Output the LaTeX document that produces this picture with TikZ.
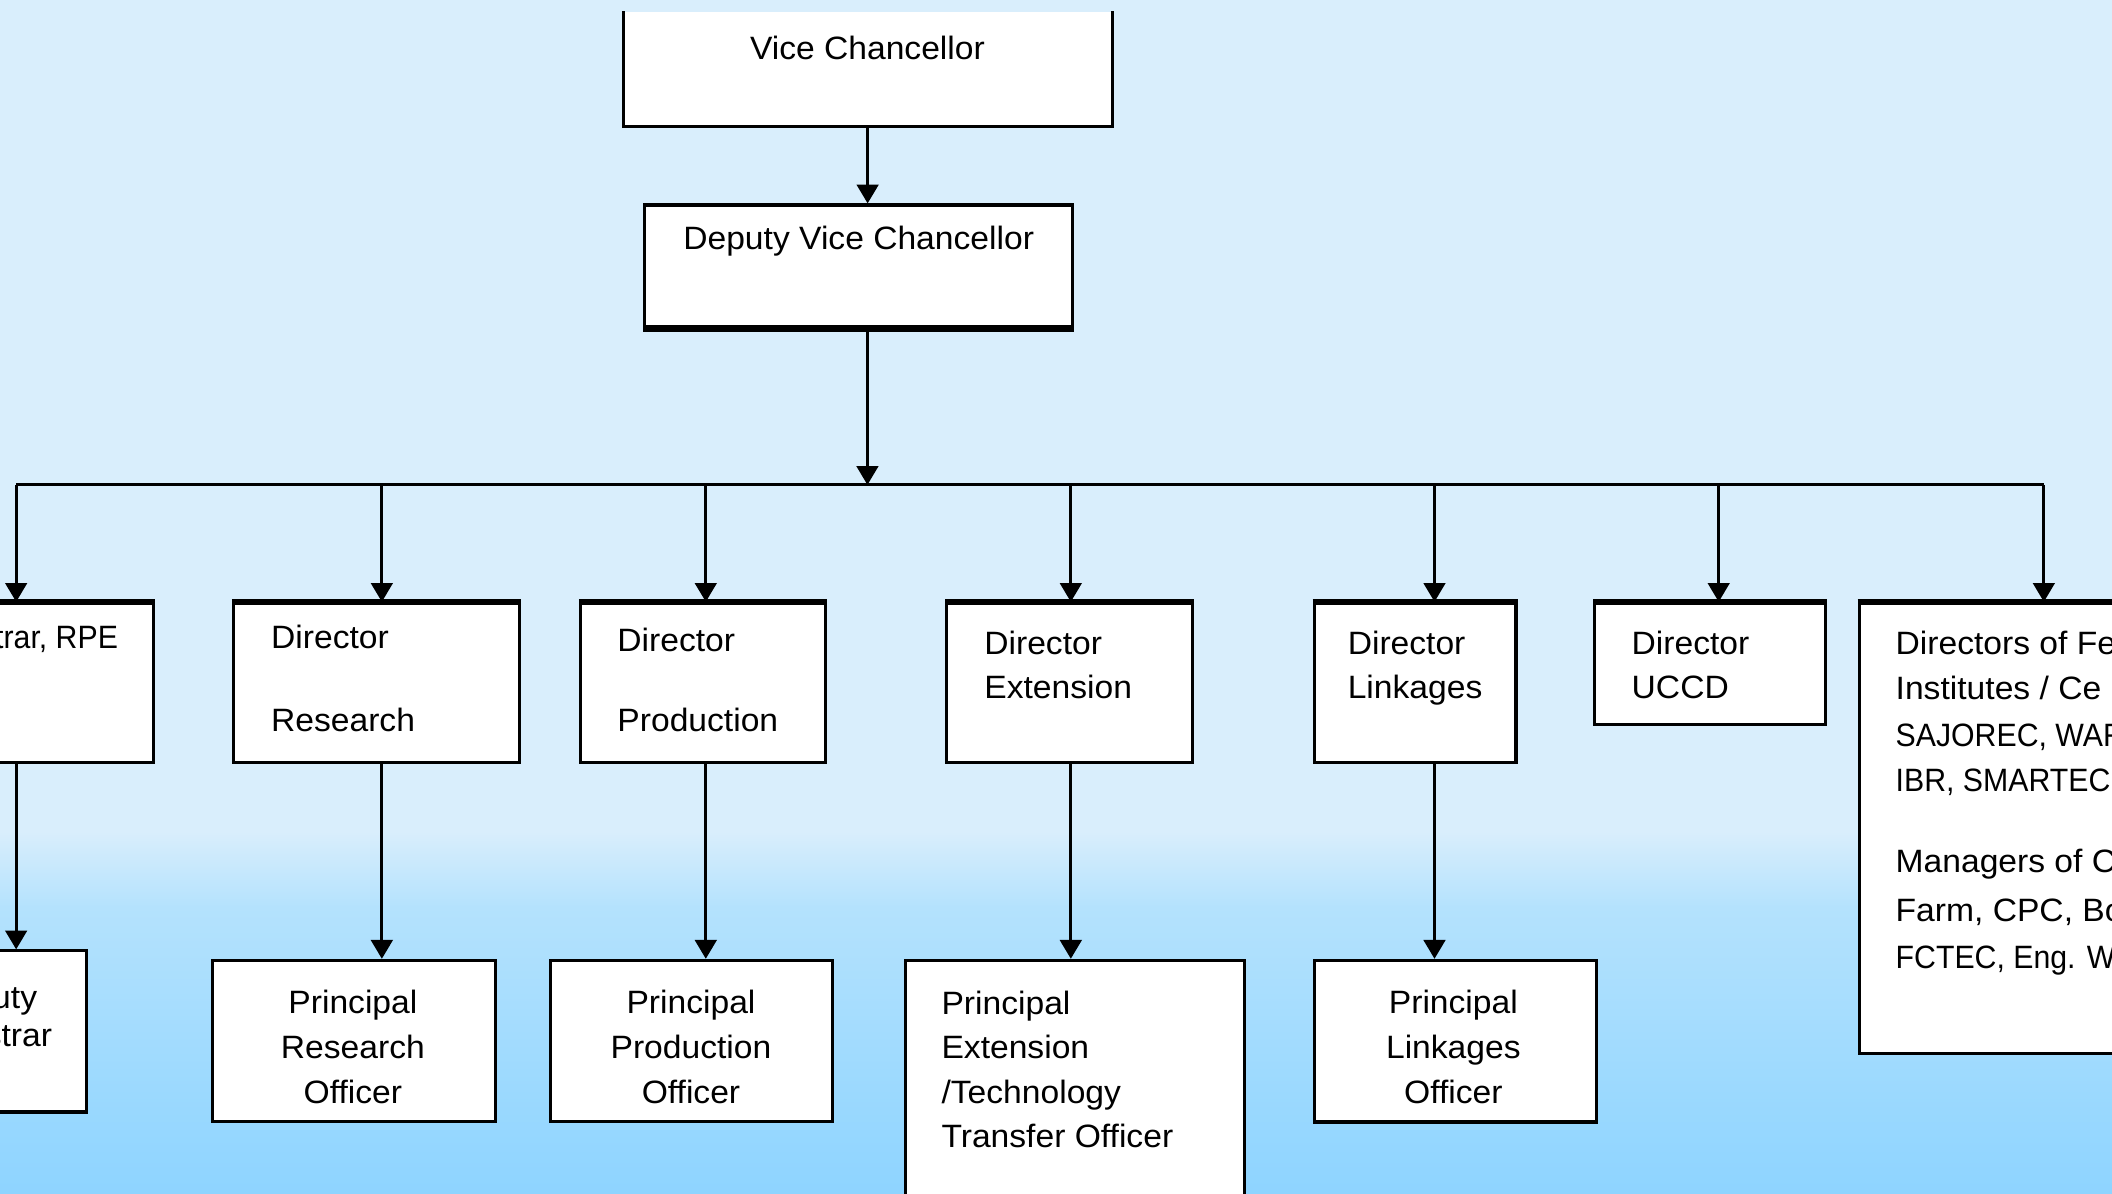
\documentclass[tikz,border=0pt]{standalone}
\usepackage{fontspec}
\setmainfont{Liberation Sans}
\newfontfamily\boxfont[FakeStretch=1.04]{Liberation Sans}
\usetikzlibrary{arrows.meta,fit}
\definecolor{bgtop}{RGB}{217,238,252}
\definecolor{bgmid}{RGB}{180,226,253}
\definecolor{bgbot}{RGB}{142,212,255}
% capitals-heavy lines are set a little narrower
\newcommand{\narrowcaps}[1]{\scalebox{0.9}[1]{#1}}

\begin{document}
\begin{tikzpicture}[x=0.5pt,y=-0.5pt,
  box/.style={draw=black, fill=white, line width=1.15pt, inner sep=0pt},
  txt/.style={font=\boxfont\fontsize{12}{14}\selectfont, inner sep=0pt, text=black},
  arr/.style={line width=1.15pt, -{Triangle[width=8pt,length=7pt]}},
  topline/.style={line width=2pt},
  btmline/.style={line width=2.7pt}]
\path[use as bounding box] (0,0) rectangle (1568,886);
\clip (0,0) rectangle (1568,886);

% background: pale sky blue fading to a deeper blue near the bottom
\fill[bgtop] (0,0) rectangle (1568,618);
\shade[top color=bgtop, bottom color=bgmid] (0,617) rectangle (1568,674);
\shade[top color=bgmid, bottom color=bgbot] (0,673) rectangle (1568,886);

% ---------- top of the hierarchy ----------
\node[fill=white, inner sep=0pt, fit={(463,8.9) (825.3,93.5)}] (vc) {};
\draw[line width=1.15pt] (vc.north west) -- (vc.south west) -- (vc.south east) -- (vc.north east);
\node[txt, anchor=base] (vc-t) at (644,44.5) {Vice Chancellor};

\node[box, fit={(478.7,152.2) (796.3,242.5)}] (dvc) {};
\draw[btmline] (dvc.south west) -- (dvc.south east);
\node[txt, anchor=base] (dvc-t) at (637.5,185.6) {Deputy Vice Chancellor};

\coordinate (bus) at (644,360);
\draw[arr] (vc.south) -- (dvc.north -| vc.south);
\draw[arr] (dvc.south -| bus) -- (bus);

% drop points on the horizontal bus
\coordinate (b-reg)  at (12,360);
\coordinate (b-res)  at (283.5,360);
\coordinate (b-prod) at (524,360);
\coordinate (b-ext)  at (795,360);
\coordinate (b-link) at (1065,360);
\coordinate (b-uccd) at (1276,360);
\coordinate (b-dirs) at (1517.4,360);
\draw[line width=1.15pt] (b-reg) -- (b-dirs);

% ---------- second level ----------
\node[box, fit={(-90,448) (114,566)}] (reg) {};
\node[box, fit={(173.3,448) (385.5,566)}] (res) {};
\node[box, fit={(431,448) (613,566)}] (prod) {};
\node[box, fit={(703,448) (885,566)}] (ext) {};
\node[box, fit={(975.7,448) (1125.5,566)}] (link) {};
\node[box, fit={(1184,448) (1355.6,538)}] (uccd) {};
\node[box, fit={(1380.3,448) (1654,782)}] (dirs) {};
\foreach \n in {reg,res,prod,ext,link,uccd,dirs}{
  \draw[topline] (\n.north west) -- (\n.north east);
  \draw[arr] (b-\n) -- (b-\n |- \n.north);
}

\node[txt, anchor=base east] (reg-t) at (88,481.7) {\narrowcaps{Registrar, RPE}};
\node[txt, anchor=base west] (res-t1) at (200.9,481.7) {Director};
\node[txt, anchor=base west] (res-t2) at (200.9,542.8) {Research};
\node[txt, anchor=base west] (prod-t1) at (458,484) {Director};
\node[txt, anchor=base west] (prod-t2) at (458,543) {Production};
\node[txt, anchor=base west] (ext-t1) at (730.4,485.8) {Director};
\node[txt, anchor=base west] (ext-t2) at (730.4,518.4) {Extension};
\node[txt, anchor=base west] (link-t1) at (1000.2,485.8) {Director};
\node[txt, anchor=base west] (link-t2) at (1000.2,518.4) {Linkages};
\node[txt, anchor=base west] (uccd-t1) at (1211,485.8) {Director};
\node[txt, anchor=base west] (uccd-t2) at (1211,518.4) {UCCD};
\foreach \t/\y [count=\i] in {{Directors of Fe}/486, {Institutes / Ce}/519,
    {\narrowcaps{SAJOREC, WAR}}/554, {\narrowcaps{IBR, SMARTEC,}}/588,
    {Managers of C}/648, {Farm, CPC, Bo}/684, {\narrowcaps{FCTEC, Eng. W}}/719}
  \node[txt, anchor=base west] (dirs-t\i) at (1407,\y) {\t};

% ---------- third level ----------
\node[box, fit={(-88,706) (64,825.6)}] (dreg) {};
\node[box, fit={(157.7,713) (368,832.6)}] (pres) {};
\node[box, fit={(409,713) (618,832.6)}] (pprod) {};
\node[box, fit={(672,713) (924,900)}] (pext) {};
\node[box, fit={(975.7,713) (1185.2,833)}] (plink) {};
\draw[arr] (reg.south -| b-reg) -- (dreg.north -| b-reg);
\draw[arr] (res.south -| b-res) -- (pres.north -| b-res);
\draw[arr] (prod.south -| b-prod) -- (pprod.north -| b-prod);
\draw[arr] (ext.south -| b-ext) -- (pext.north -| b-ext);
\draw[arr] (link.south -| b-link) -- (plink.north -| b-link);

\node[txt, anchor=base] (dreg-t1) at (-12,749) {Deputy};
\node[txt, anchor=base] (dreg-t2) at (-12,777) {Registrar};
\foreach \t/\y [count=\i] in {{Principal}/752.6, {Research}/785.8, {Officer}/819}
  \node[txt, anchor=base] (pres-t\i) at (262,\y) {\t};
\foreach \t/\y [count=\i] in {{Principal}/752.6, {Production}/785.8, {Officer}/819}
  \node[txt, anchor=base] (pprod-t\i) at (513,\y) {\t};
\foreach \t/\y [count=\i] in {{Principal}/752.6, {Linkages}/785.8, {Officer}/819}
  \node[txt, anchor=base] (plink-t\i) at (1079,\y) {\t};
\foreach \t/\y [count=\i] in {{Principal}/753, {Extension}/786, {/Technology}/819.5, {Transfer Officer}/852}
  \node[txt, anchor=base west] (pext-t\i) at (698.6,\y) {\t};
\end{tikzpicture}
\end{document}
